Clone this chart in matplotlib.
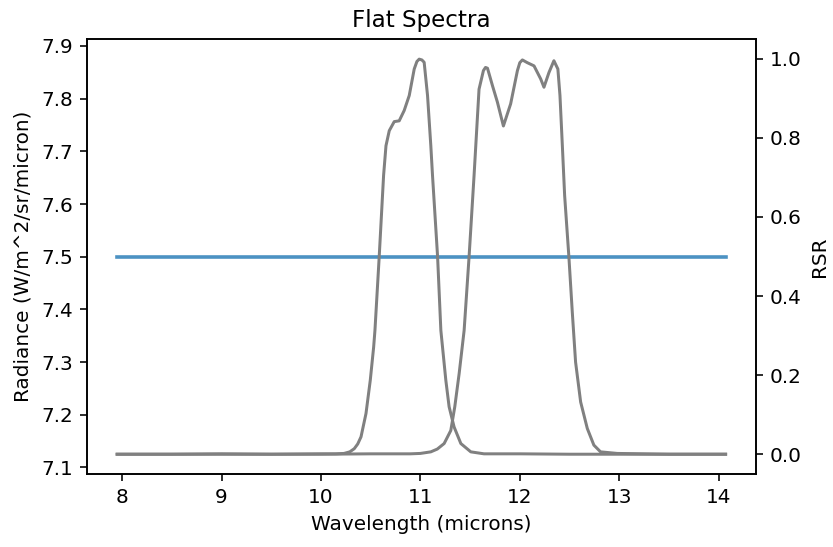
import matplotlib
matplotlib.use("Agg")
import matplotlib.pyplot as plt

# Flat spectrum
flat_wavelength = [7.95, 14.07]
flat_radiance = [7.5, 7.5]

# RSR band 1
band1_wavelength = [7.95, 8.5, 9.0, 9.5, 10.0, 10.15, 10.232, 10.29, 10.335, 10.37, 10.403,
                    10.453, 10.496, 10.53, 10.543, 10.586, 10.63, 10.654, 10.687, 10.737,
                    10.787, 10.837, 10.888, 10.938, 10.965, 10.988, 11.015, 11.038, 11.072,
                    11.105, 11.122, 11.173, 11.206, 11.256, 11.289, 11.339, 11.407, 11.507,
                    11.64, 12.0, 12.5, 13.0, 13.5, 14.07]
band1_rsr = [0.0, 0.0, 0.001, 0.0, 0.001, 0.001, 0.002, 0.006, 0.014, 0.026, 0.044,
             0.103, 0.187, 0.271, 0.313, 0.50, 0.705, 0.78, 0.818, 0.841,
             0.843, 0.869, 0.907, 0.974, 0.993, 0.999, 0.997, 0.991, 0.907,
             0.78, 0.705, 0.50, 0.313, 0.187, 0.12, 0.069, 0.027, 0.006,
             0.001, 0.001, 0.0, 0.0, 0.0, 0.0]

# RSR band 2
band2_wavelength = [7.95, 8.5, 9.0, 9.5, 10.0, 10.5, 10.9, 11.0, 11.105, 11.17, 11.239,
                    11.306, 11.346, 11.39, 11.44, 11.49, 11.54, 11.59, 11.634, 11.655,
                    11.675, 11.725, 11.775, 11.835, 11.908, 11.976, 12.0, 12.026, 12.076,
                    12.143, 12.21, 12.243, 12.293, 12.343, 12.383, 12.404, 12.428, 12.451,
                    12.494, 12.528, 12.561, 12.612, 12.679, 12.745, 12.812, 12.98, 13.5,
                    14.07]
band2_rsr = [0.0, 0.0, 0.0, 0.0, 0.0, 0.001, 0.001, 0.002, 0.006, 0.013, 0.027,
             0.06, 0.12, 0.204, 0.313, 0.50, 0.705, 0.923, 0.97, 0.978,
             0.976, 0.932, 0.89, 0.83, 0.886, 0.97, 0.99, 0.997, 0.99,
             0.982, 0.949, 0.928, 0.965, 0.995, 0.974, 0.907, 0.78, 0.654,
             0.498, 0.359, 0.233, 0.132, 0.065, 0.023, 0.006, 0.002, 0.0,
             0.0]

fig = plt.figure(figsize=(833 / 144, 547 / 144), dpi=144)
ax = fig.add_axes([0.1041, 0.1335, 0.8035, 0.7945])
ax.plot(flat_wavelength, flat_radiance, color="#1f77b4", alpha=0.8, linewidth=1.8)
ax.set_xlabel("Wavelength (microns)")
ax.set_ylabel("Radiance (W/m^2/sr/micron)")
ax.set_title("Flat Spectra", fontsize=11.5)

ax2 = ax.twinx()
ax2.plot(band1_wavelength, band1_rsr, color="#808080", linewidth=1.5)
ax2.plot(band2_wavelength, band2_rsr, color="#808080", linewidth=1.5)
ax2.set_ylabel("RSR")

fig.savefig("out.png", dpi=144)
